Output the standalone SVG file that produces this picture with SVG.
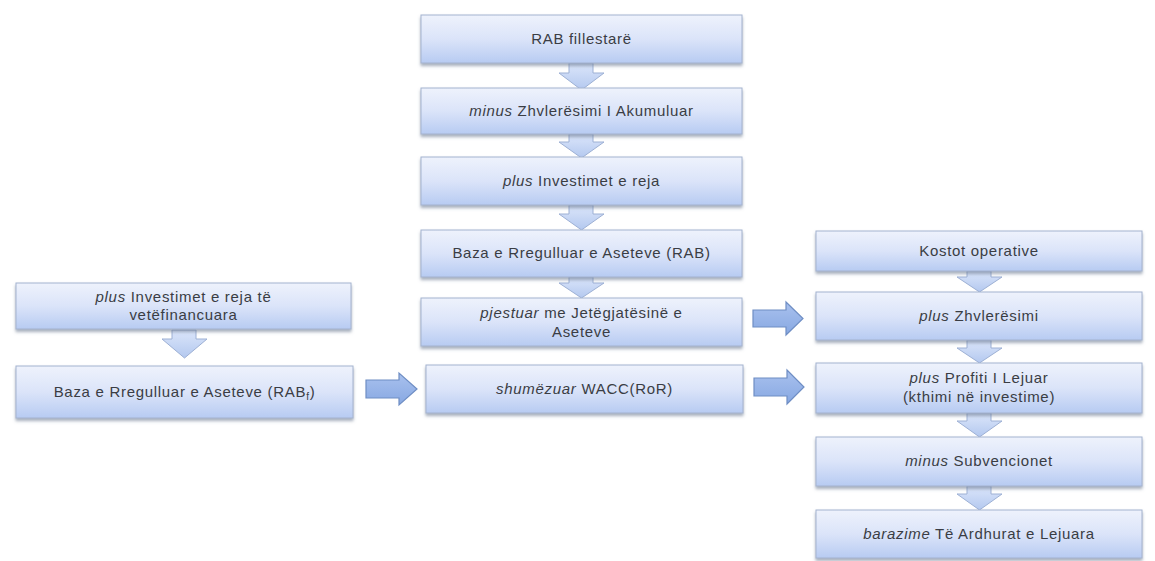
<svg xmlns="http://www.w3.org/2000/svg" width="1155" height="561" viewBox="0 0 1155 561">
<defs>
<linearGradient id="bg" x1="0" y1="0" x2="0" y2="1">
<stop offset="0" stop-color="#eef2fc"/>
<stop offset="0.5" stop-color="#dbe4f9"/>
<stop offset="1" stop-color="#b7cbf2"/>
</linearGradient>
<linearGradient id="ag" x1="0" y1="0" x2="0" y2="1">
<stop offset="0" stop-color="#dce6fa"/>
<stop offset="1" stop-color="#b3c8ef"/>
</linearGradient>
<linearGradient id="rg" x1="0" y1="0" x2="0" y2="1">
<stop offset="0" stop-color="#a9c1ee"/>
<stop offset="1" stop-color="#87a8e2"/>
</linearGradient>
<filter id="sh" x="-5%" y="-20%" width="110%" height="150%">
<feDropShadow dx="0" dy="2.5" stdDeviation="1.5" flood-color="#6b7890" flood-opacity="0.6"/>
</filter>
</defs>
<style>
.box{fill:url(#bg);stroke:#a4b3cf;stroke-width:1;filter:url(#sh)}
.t{font-family:"Liberation Sans",Arial,sans-serif;font-size:15px;letter-spacing:0.7px;fill:#3a3d44;text-anchor:middle}
.i{font-style:italic}
.da{fill:url(#ag);stroke:#9db0d4;stroke-width:1}
.ra{fill:url(#rg);stroke:#6f8ec4;stroke-width:1.2}
</style>
<g id="connectors">
<path class="da" d="M569,63 h24 v10 h11 l-22.5,17 l-22.5,-17 h10 z"/>
<path class="da" d="M569,134 h24 v8 h11 l-22.5,16 l-22.5,-16 h10 z"/>
<path class="da" d="M569,205 h24 v9 h11 l-22.5,16 l-22.5,-16 h10 z"/>
<path class="da" d="M569,277 h24 v6 h11 l-22.5,15 l-22.5,-15 h10 z"/>
<path class="da" d="M172,330 h24 v9 h11 l-22.5,19 l-22.5,-19 h10 z"/>
<path class="da" d="M967,271 h24 v6 h11 l-22.5,15 l-22.5,-15 h10 z"/>
<path class="da" d="M967,340 h24 v8 h11 l-22.5,15 l-22.5,-15 h10 z"/>
<path class="da" d="M967,413 h24 v8 h11 l-22.5,16 l-22.5,-16 h10 z"/>
<path class="da" d="M967,486 h24 v8 h11 l-22.5,16 l-22.5,-16 h10 z"/>
<path class="ra" d="M366,380 h33 v-7 l18,16 l-18,16 v-7 h-33 z"/>
<path class="ra" d="M753,310 h33 v-8 l17,16.5 l-17,16.5 v-8 h-33 z"/>
<path class="ra" d="M754,378 h33 v-8 l17,17 l-17,17 v-8 h-33 z"/>
</g>
<g id="n1"><rect class="box" x="421" y="15" width="321" height="48"/><text class="t" x="581.5" y="44">RAB fillestarë</text></g>
<g id="n2"><rect class="box" x="421" y="88" width="321" height="46"/><text class="t" x="581.5" y="116"><tspan class="i">minus</tspan> Zhvlerësimi I Akumuluar</text></g>
<g id="n3"><rect class="box" x="421" y="157" width="321" height="48"/><text class="t" x="581.5" y="186"><tspan class="i">plus</tspan> Investimet e reja</text></g>
<g id="n4"><rect class="box" x="421" y="230" width="321" height="47"/><text class="t" x="581.5" y="258">Baza e Rregulluar e Aseteve (RAB)</text></g>
<g id="n5"><rect class="box" x="421" y="298" width="321" height="48"/><text class="t" x="581.5" y="318"><tspan class="i">pjestuar</tspan> me Jetëgjatësinë e</text><text class="t" x="581.5" y="337">Aseteve</text></g>
<g id="n6"><rect class="box" x="426" y="365" width="317" height="48"/><text class="t" x="584.5" y="394"><tspan class="i">shumëzuar</tspan> WACC(RoR)</text></g>
<g id="l1"><rect class="box" x="16" y="283" width="335" height="46"/><text class="t" x="183.5" y="302"><tspan class="i">plus</tspan> Investimet e reja të</text><text class="t" x="183.5" y="320">vetëfinancuara</text></g>
<g id="l2"><rect class="box" x="16" y="366" width="337" height="52"/><text class="t" x="184.5" y="397">Baza e Rregulluar e Aseteve  (RAB<tspan font-size="10" dy="3">f</tspan><tspan dy="-3">)</tspan></text></g>
<g id="r1"><rect class="box" x="816" y="231" width="326" height="40"/><text class="t" x="979" y="256">Kostot operative</text></g>
<g id="r2"><rect class="box" x="816" y="292" width="326" height="48"/><text class="t" x="979" y="321"><tspan class="i">plus</tspan> Zhvlerësimi</text></g>
<g id="r3"><rect class="box" x="816" y="363" width="326" height="50"/><text class="t" x="979" y="383"><tspan class="i">plus</tspan> Profiti I Lejuar</text><text class="t" x="979" y="402">(kthimi në investime)</text></g>
<g id="r4"><rect class="box" x="816" y="437" width="326" height="49"/><text class="t" x="979" y="466"><tspan class="i">minus</tspan> Subvencionet</text></g>
<g id="r5"><rect class="box" x="816" y="510" width="326" height="48"/><text class="t" x="979" y="539"><tspan class="i">barazime</tspan> Të Ardhurat  e Lejuara</text></g>
</svg>
